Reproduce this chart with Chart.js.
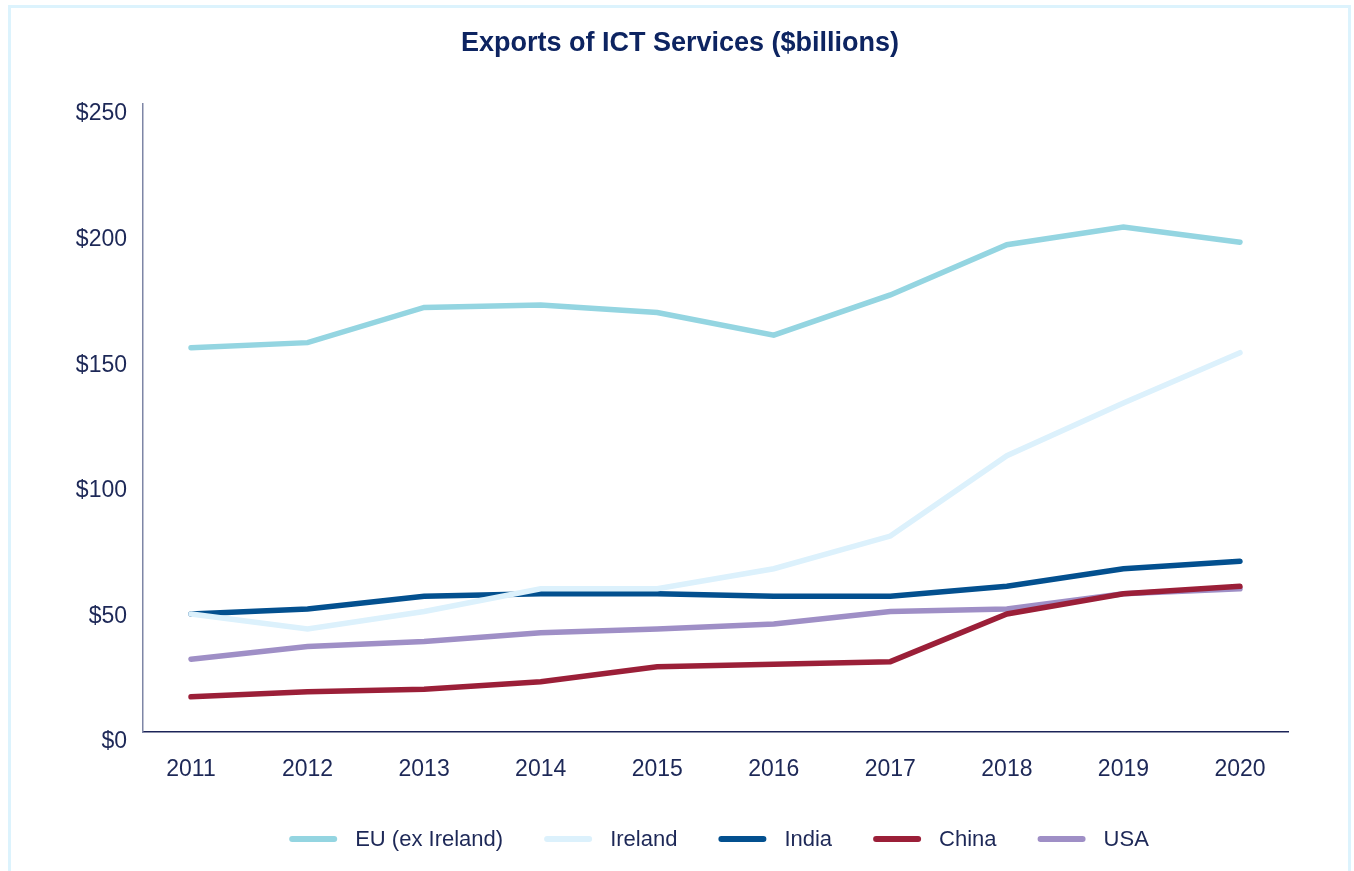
<!DOCTYPE html>
<html>
<head>
<meta charset="utf-8">
<title>Exports of ICT Services</title>
<script src="https://cdn.jsdelivr.net/npm/chart.js@4/dist/chart.umd.min.js"></script>
<style>
  html, body { margin: 0; padding: 0; background: #ffffff; }
  #wrap { position: relative; width: 1354px; height: 871px; overflow: hidden; }
  #frame {
    position: absolute; left: 8px; top: 5px; width: 1343px; height: 880px;
    border: 3px solid #dcf3fd; box-sizing: border-box; pointer-events: none;
  }
  canvas { display: block; }
</style>
</head>
<body>
<div id="wrap">
  <canvas id="chart" width="1354" height="871"></canvas>
  <div id="frame"></div>
</div>
<script>
// Exports of ICT services, $ billions
const years = [2011, 2012, 2013, 2014, 2015, 2016, 2017, 2018, 2019, 2020];
const euExIreland = [153, 155, 169, 170, 167, 158, 174, 194, 201, 195];
const ireland = [47, 41, 48, 57, 57, 65, 78, 110, 131, 151];
const india = [47, 49, 54, 55, 55, 54, 54, 58, 65, 68];
const china = [14, 16, 17, 20, 26, 27, 28, 47, 55, 58];
const usa = [29, 34, 36, 39.5, 41, 43, 48, 49, 55, 57];
const yTicks = [0, 50, 100, 150, 200, 250];

const NAVY = '#1d2857';
const FONT = '"Liberation Sans", Arial, Helvetica, sans-serif';

function series(label, values, color, order) {
  return {
    label,
    data: years.map((y, i) => ({ x: y, y: values[i] })),
    borderColor: color,
    backgroundColor: color,
    borderWidth: 5.5,
    borderCapStyle: 'round',
    borderJoinStyle: 'miter',
    pointRadius: 0,
    pointHoverRadius: 0,
    tension: 0,
    fill: false,
    order
  };
}

// Legend drawn along the bottom: line swatch followed by the series name
const lineLegend = {
  id: 'lineLegend',
  afterDraw(chart) {
    const ctx = chart.ctx;
    const sw = 48, gapText = 18, gapItem = 41, cy = 839;
    ctx.save();
    ctx.font = '22px ' + FONT;
    const items = chart.data.datasets.map(d => ({
      text: d.label, color: d.borderColor, w: ctx.measureText(d.label).width
    }));
    const total = items.reduce((s, it) => s + sw + gapText + it.w, 0) + gapItem * (items.length - 1);
    let x = 719 - total / 2;
    ctx.textBaseline = 'middle';
    ctx.textAlign = 'left';
    items.forEach(it => {
      ctx.strokeStyle = it.color;
      ctx.lineWidth = 6;
      ctx.lineCap = 'round';
      ctx.beginPath();
      ctx.moveTo(x + 3, cy);
      ctx.lineTo(x + sw - 3, cy);
      ctx.stroke();
      ctx.fillStyle = NAVY;
      ctx.fillText(it.text, x + sw + gapText, cy + 1);
      x += sw + gapText + it.w + gapItem;
    });
    ctx.restore();
  }
};

new Chart(document.getElementById('chart'), {
  type: 'line',
  data: {
    datasets: [
      series('EU (ex Ireland)', euExIreland, '#94d5e1', 4),
      series('Ireland', ireland, '#dcf1fc', 1),
      series('India', india, '#03508f', 2),
      series('China', china, '#9b1f38', 0),
      series('USA', usa, '#9f8fc6', 3)
    ]
  },
  options: {
    responsive: false,
    animation: false,
    devicePixelRatio: 1,
    layout: { padding: { left: 72, right: 66, top: 0, bottom: 79 } },
    plugins: {
      legend: { display: false },
      tooltip: { enabled: false },
      title: {
        display: true,
        text: 'Exports of ICT Services ($billions)',
        color: '#0d2461',
        font: { family: FONT, size: 27, weight: 'bold', lineHeight: 1.2 },
        padding: { top: 27, bottom: 44.6 }
      }
    },
    scales: {
      x: {
        type: 'linear',
        min: 2011 - 0.412,
        max: 2020 + 0.412,
        afterBuildTicks(scale) { scale.ticks = years.map(v => ({ value: v })); },
        afterFit(scale) { scale.height = 60; },
        grid: { drawOnChartArea: false, drawTicks: false },
        border: { display: true, color: '#1c2458', width: 1.5 },
        ticks: {
          color: NAVY,
          font: { family: FONT, size: 23 },
          padding: 24,
          maxRotation: 0,
          autoSkip: false,
          callback: v => String(v)
        }
      },
      y: {
        min: 0,
        max: 250,
        afterBuildTicks(scale) { scale.ticks = yTicks.map(v => ({ value: v })); },
        afterFit(scale) { scale.width = 71; },
        grid: { drawOnChartArea: false, drawTicks: false },
        border: { display: true, color: '#7e86a6', width: 1.5 },
        ticks: {
          color: NAVY,
          font: { family: FONT, size: 23 },
          padding: 16,
          labelOffset: 10,
          callback: v => '$' + v
        }
      }
    }
  },
  plugins: [lineLegend]
});
</script>
</body>
</html>
